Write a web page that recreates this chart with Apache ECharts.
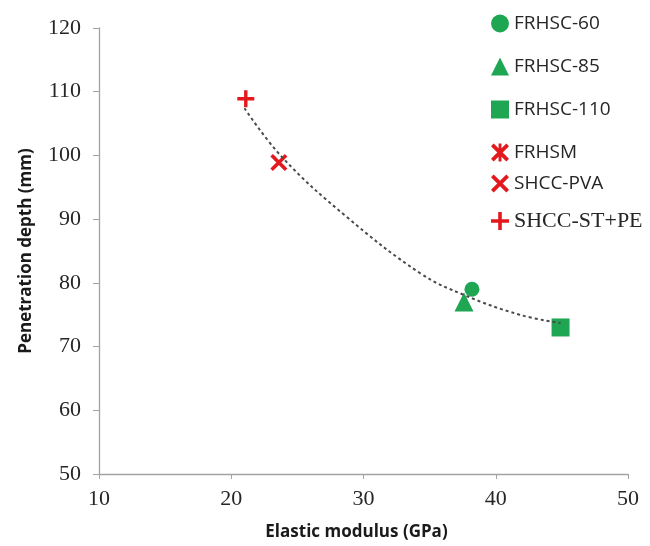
<!DOCTYPE html>
<html>
<head>
<meta charset="utf-8">
<script src="https://cdn.jsdelivr.net/npm/echarts@6/dist/echarts.min.js"></script>
<style>
  html, body { margin: 0; padding: 0; background: #fff; }
  #main { width: 650px; height: 546px; }
</style>
</head>
<body>
<div id="main"></div>
<script>
// points: [elastic modulus, penetration depth]
var frhsc60 = [[38.2, 79]];
var frhsc85 = [[37.6, 77]];
var frhsc110 = [[44.9, 73]];
var frhsm = [];
var shccPva = [[23.6, 98.9]];
var shccStPe = [[21.1, 108.9]];

// dashed trend curve
var trendX = [21.0, 23.9, 28.7, 34.3, 37.6, 41.8, 44.9];
var trendY = [107.4, 99.6, 90.4, 81.5, 78.1, 75.0, 73.7];

var xTicks = [10, 20, 30, 40, 50];
var yTicks = [50, 60, 70, 80, 90, 100, 110, 120];

var GREEN = '#1fa653', RED = '#e3191d';
var plusPath = 'path://M4,0L6,0L6,4L10,4L10,6L6,6L6,10L4,10L4,6L0,6L0,4L4,4Z';
var crossPath = 'path://M0,1.5L1.5,0L10,8.5L8.5,10ZM8.5,0L10,1.5L1.5,10L0,8.5Z';
var starPath = 'path://M0,1.5L1.5,0L10,8.5L8.5,10ZM8.5,0L10,1.5L1.5,10L0,8.5ZM4.2,0L5.8,0L5.8,10L4.2,10Z';

var sans = "'Open Sans', 'Noto Sans', sans-serif";
var serif = "'Liberation Serif', 'DejaVu Serif', serif";

var myChart = echarts.init(document.getElementById('main'));

function pts(name, data, symbol, size, color) {
    return {
        name: name, type: 'scatter', data: data,
        symbol: symbol, symbolSize: size,
        itemStyle: { color: color, opacity: 1 },
        z: 3
    };
}

var legendText = { fontFamily: sans, fontSize: 19, color: '#262626' };

var option = {
    backgroundColor: '#fff',
    animation: false,
    grid: { left: 99, right: 22, top: 28, bottom: 72 },
    legend: [{
        orient: 'vertical', left: 491, top: 14, padding: 0,
        itemWidth: 18, itemHeight: 18, itemGap: 24,
        textStyle: legendText,
        data: [
            { name: 'FRHSC-60', icon: 'circle' },
            { name: 'FRHSC-85', icon: 'triangle' },
            { name: 'FRHSC-110', icon: 'rect' },
            { name: 'FRHSM', icon: starPath }
        ]
    }, {
        orient: 'vertical', left: 491, top: 174, padding: 0,
        itemWidth: 18, itemHeight: 18, itemGap: 17,
        textStyle: legendText,
        data: [
            { name: 'SHCC-PVA', icon: crossPath },
            { name: 'SHCC-ST+PE', icon: plusPath, textStyle: { fontFamily: serif, fontSize: 22, color: '#262626' } }
        ]
    }],
    xAxis: {
        type: 'value', min: xTicks[0], max: xTicks[xTicks.length - 1], interval: 10,
        name: 'Elastic modulus (GPa)', nameLocation: 'middle', nameGap: 50,
        nameTextStyle: { fontFamily: sans, fontWeight: 'bold', fontSize: 17, color: '#1a1a1a', padding: [0, 14, 0, 0] },
        axisLine: { lineStyle: { color: '#a3a3a3', width: 1.3 } },
        axisTick: { length: 5, lineStyle: { color: '#a3a3a3' } },
        axisLabel: { fontFamily: serif, fontSize: 22, color: '#262626', margin: 14 },
        splitLine: { show: false }
    },
    yAxis: {
        type: 'value', min: yTicks[0], max: yTicks[yTicks.length - 1], interval: 10,
        name: 'Penetration depth (mm)', nameLocation: 'middle', nameGap: 64,
        nameTextStyle: { fontFamily: sans, fontWeight: 'bold', fontSize: 17, color: '#1a1a1a' },
        axisLine: { show: true, lineStyle: { color: '#a3a3a3', width: 1.3 } },
        axisTick: { show: true, length: 6, lineStyle: { color: '#a3a3a3' } },
        axisLabel: { fontFamily: serif, fontSize: 22, color: '#262626', margin: 18 },
        splitLine: { show: false }
    },
    series: [
        {
            name: 'trend', type: 'line', smooth: 0.4, symbol: 'none', silent: true,
            data: trendX.map(function (x, i) { return [x, trendY[i]]; }),
            lineStyle: { color: '#4a4a4a', width: 2, type: [3, 3] },
            z: 4
        },
        pts('FRHSC-60', frhsc60, 'circle', 15, GREEN),
        pts('FRHSC-85', frhsc85, 'triangle', 19, GREEN),
        pts('FRHSC-110', frhsc110, 'rect', 18, GREEN),
        pts('FRHSM', frhsm, starPath, 16, RED),
        pts('SHCC-PVA', shccPva, crossPath, 17, RED),
        pts('SHCC-ST+PE', shccStPe, plusPath, 17, RED)
    ]
};

myChart.setOption(option);
</script>
</body>
</html>
